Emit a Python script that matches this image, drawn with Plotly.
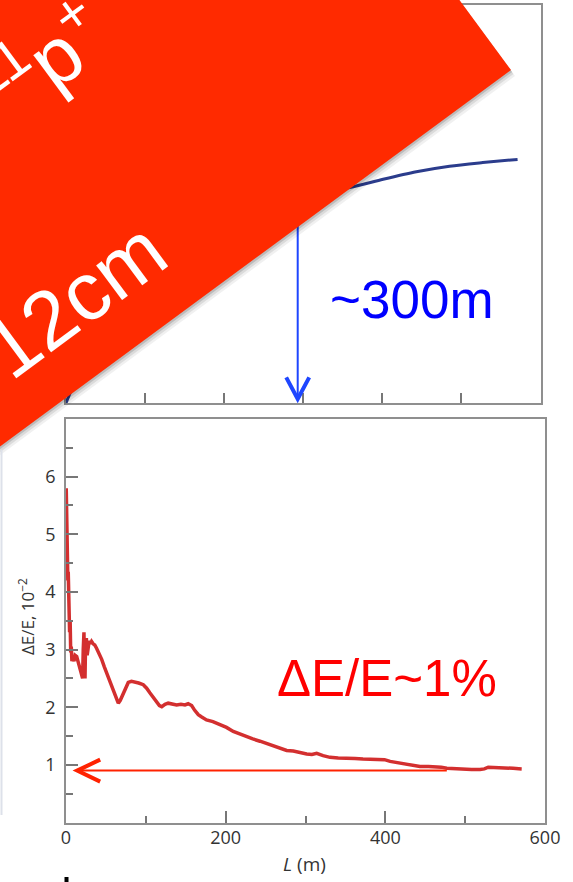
import plotly.graph_objects as go

W, H = 573, 882

# ---- energy spread along the plasma (lower panel) ----
L_red = [0.3, 0.8, 1.3, 1.8, 2.3, 2.8, 3.3, 3.9, 4.5, 5.2,
         5.9, 6.6, 7.4, 8.5, 10, 11.5, 13.4, 15.5, 17.5, 19.2,
         20.8, 21.6, 22.5, 23.2, 23.8, 24.5, 25.5, 26.5, 27.6, 29,
         30.5, 32, 34, 36, 38.4, 41, 44.7, 48, 52, 56,
         60, 63, 65.5, 68, 71.8, 75, 78, 82, 86, 91,
         96.8, 101, 105, 109, 113.6, 117, 120, 124, 128, 133,
         138.6, 144, 149, 153, 157.4, 161, 165.7, 170, 176, 184,
         193, 201, 209.5, 218, 226, 234, 243, 251, 260, 268,
         276.4, 284.7, 293, 301.5, 308, 314, 322, 330.7, 341, 351.6,
         362, 372, 382, 391, 399, 406, 414, 422.5, 433, 443.4,
         454, 464, 470, 477, 487, 497.6, 508, 518.6, 524, 529,
         538, 548, 560, 570.8]
dE_red = [5.8, 5.3, 4.6, 5.1, 4.2, 4.35, 3.6, 3.9, 3.3, 3.5,
          2.95, 3.05, 2.8, 2.85, 2.8, 2.9, 2.88, 2.78, 2.7, 2.6,
          2.5, 3.0, 3.3, 2.6, 2.5, 3.1, 3.2, 2.9, 3.05, 3.15,
          3.1, 3.14, 3.1, 3.08, 3.02, 2.95, 2.83, 2.7, 2.55, 2.4,
          2.25, 2.12, 2.07, 2.12, 2.25, 2.35, 2.43, 2.45, 2.44, 2.42,
          2.39, 2.33, 2.25, 2.17, 2.08, 2.03, 2.01, 2.05, 2.07, 2.05,
          2.04, 2.05, 2.04, 2.06, 2.03, 1.95, 1.87, 1.83, 1.78, 1.75,
          1.70, 1.65, 1.58, 1.53, 1.49, 1.45, 1.41, 1.37, 1.32, 1.29,
          1.25, 1.24, 1.21, 1.19, 1.18, 1.20, 1.16, 1.13, 1.12, 1.12,
          1.11, 1.10, 1.10, 1.10, 1.09, 1.06, 1.04, 1.01, 0.99, 0.97,
          0.97, 0.97, 0.96, 0.94, 0.93, 0.92, 0.92, 0.92, 0.93, 0.96,
          0.95, 0.94, 0.94, 0.93]

# ---- electron energy along the plasma (upper panel) ----
L_blue = [0, 5, 20, 50, 100, 150, 200, 250, 300, 363, 401, 443, 485, 527, 571]
E_blue = [0, 24, 90, 190, 310, 390, 445, 490, 520, 543, 562, 581, 595, 604, 612]

# ---- ticks ----
x_ticks = [0, 200, 400, 600]
x_minor = [100, 300, 500]
y_ticks = [1, 2, 3, 4, 5, 6]
y_minor = [0.5, 1.5, 2.5, 3.5, 4.5, 5.5, 6.5]
top_ticks = [100, 200, 300, 400, 500]

# ---- markers ----
mark_L = 293          # "~300m" marker position
mark_top, mark_tip = 900, 10
level = 0.9           # "~1%" level
level_from, level_to = 477, 14

RED_BOX = "#ff2a00"
BLUE = "#0000ff"
ARROW_BLUE = "#1e46ff"
RED_TXT = "#ff0000"
FRAME = "#8f8f8f"
TICK = "#777777"


def P(x, y):
    return f"{x / W:.5f},{1 - y / H:.5f}"


def poly(pts):
    return "M " + " L ".join(P(x, y) for x, y in pts) + " Z"


fig = go.Figure()

fig.add_trace(go.Scatter(
    x=L_red, y=dE_red, mode="lines", xaxis="x", yaxis="y",
    line=dict(color="#d32f2f", width=3.5), hoverinfo="skip"))

fig.add_trace(go.Scatter(
    x=L_blue, y=E_blue, mode="lines", xaxis="x2", yaxis="y2",
    line=dict(color="#2b3c8c", width=3, shape="spline", smoothing=0.8),
    hoverinfo="skip"))

# rotated banner (corner, direction along its lower edge and along its upper edge)
cx, cy = 511, 70
ux, uy = -0.805, 0.593
vx, vy = -0.593, -0.805
A, B = 900, 400
banner = [(cx, cy), (cx + A * ux, cy + A * uy),
          (cx + A * ux + B * vx, cy + A * uy + B * vy), (cx + B * vx, cy + B * vy)]

shapes = []
# vertical marker shaft (runs under the banner)
shapes.append(dict(type="line", xref="x2", yref="y2", x0=mark_L, x1=mark_L,
                   y0=mark_top, y1=mark_tip, line=dict(color=ARROW_BLUE, width=2)))
shapes.append(dict(type="path", xref="x2", yref="y2", xsizemode="pixel", ysizemode="pixel",
                   xanchor=mark_L, yanchor=mark_tip,
                   path="M -11.5,21.7 L 0,0 L 11.5,21.7",
                   line=dict(color=ARROW_BLUE, width=4)))
# banner shadow + banner
for (dx, dy, a) in [(4, 6, 0.06), (2.5, 4, 0.09), (1.2, 2, 0.14)]:
    shapes.append(dict(type="path", xref="paper", yref="paper", layer="above",
                       path=poly([(x + dx, y + dy) for x, y in banner]),
                       fillcolor=f"rgba(0,0,0,{a})", line=dict(width=0)))
shapes.append(dict(type="path", xref="paper", yref="paper", layer="above",
                   path=poly(banner), fillcolor=RED_BOX, line=dict(width=0)))
# horizontal level arrow
shapes.append(dict(type="line", xref="x", yref="y", x0=level_from, x1=level_to,
                   y0=level, y1=level, line=dict(color="#ff2200", width=2)))
shapes.append(dict(type="path", xref="x", yref="y", xsizemode="pixel", ysizemode="pixel",
                   xanchor=level_to, yanchor=level,
                   path="M 23,11 L 0,0 L 23,-11",
                   line=dict(color="#ff2200", width=4)))
# faint page edge and small glyph stub
shapes.append(dict(type="line", xref="paper", yref="paper",
                   x0=1.5 / W, x1=1.5 / W, y0=1 - 450 / H, y1=1 - 815 / H,
                   line=dict(color="#dde1ea", width=2)))
shapes.append(dict(type="rect", xref="paper", yref="paper",
                   x0=64.5 / W, x1=68.5 / W, y0=1 - 877 / H, y1=0,
                   fillcolor="black", line=dict(width=0)))

BIG = "Liberation Sans, Arial, sans-serif"
LAB = "Open Sans, sans-serif"

annotations = [
    dict(text="10<sup>11</sup>p<sup>+</sup>", x=6 / W, y=1 - 86 / H,
         xref="paper", yref="paper",
         showarrow=False, xanchor="center", yanchor="middle", textangle=-36.4,
         font=dict(family=BIG, size=80, color="white")),
    dict(text="12cm", x=75 / W, y=1 - 300 / H, xref="paper", yref="paper",
         showarrow=False, xanchor="center", yanchor="middle", textangle=-36.4,
         font=dict(family=BIG, size=82, color="white")),
    dict(text="~300m", x=412 / W, y=1 - 300 / H, xref="paper", yref="paper",
         showarrow=False, xanchor="center", yanchor="middle",
         font=dict(family=BIG, size=53, color=BLUE)),
    dict(text="ΔE/E~1%", x=387 / W, y=1 - 678 / H, xref="paper", yref="paper",
         showarrow=False, xanchor="center", yanchor="middle",
         font=dict(family=BIG, size=51, color=RED_TXT)),
    dict(text="ΔE/E, 10<sup>−2</sup>", x=26 / W, y=1 - 617 / H, xref="paper", yref="paper",
         showarrow=False, xanchor="center", yanchor="middle", textangle=-90,
         font=dict(family=LAB, size=17, color="#333333")),
    dict(text="<i>L</i> (m)", x=304 / W, y=1 - 864 / H, xref="paper", yref="paper",
         showarrow=False, xanchor="center", yanchor="middle",
         font=dict(family=LAB, size=19, color="#333333")),
]

axis_common = dict(showline=True, mirror=True, linecolor=FRAME, linewidth=1.5,
                   showgrid=False, zeroline=False)

fig.update_layout(
    width=W, height=H, autosize=False, margin=dict(l=0, r=0, t=0, b=0, autoexpand=False),
    paper_bgcolor="white", plot_bgcolor="white", showlegend=False,
    xaxis=dict(domain=[66 / W, 545 / W], range=[0, 600], anchor="y",
               tickvals=x_ticks, ticks="inside", ticklen=12, tickwidth=1.5, tickcolor=TICK,
               minor=dict(tickvals=x_minor, ticks="inside", ticklen=7, tickwidth=1.5,
                          tickcolor=TICK),
               tickfont=dict(family=LAB, size=18, color="#333333"),
               ticklabelstandoff=-2, **axis_common),
    yaxis=dict(domain=[1 - 822.5 / H, 1 - 419 / H], range=[0, 7], anchor="x",
               tickvals=y_ticks, ticks="inside", ticklen=12, tickwidth=1.5, tickcolor=TICK,
               minor=dict(tickvals=y_minor, ticks="inside", ticklen=7, tickwidth=1.5,
                          tickcolor=TICK),
               tickfont=dict(family=LAB, size=18, color="#333333"),
               ticklabelstandoff=5, **axis_common),
    xaxis2=dict(domain=[66 / W, 540.5 / W], range=[0, 600], anchor="y2",
                tickvals=top_ticks, ticks="inside", ticklen=10, tickwidth=1.5,
                tickcolor=TICK, showticklabels=False, **axis_common),
    yaxis2=dict(domain=[1 - 403 / H, 1 - 5 / H], range=[0, 1000], anchor="x2",
                ticks="", showticklabels=False, **axis_common),
    shapes=shapes,
    annotations=annotations,
)

# keep the page exactly one figure in size (no body margin, no scrollbars)
page_fix = (
    "document.documentElement.style.overflow='hidden';"
    "document.body.style.margin='0';"
    "document.body.style.overflow='hidden';"
    "var gd=document.getElementById('{plot_id}');"
    "Plotly.relayout(gd,{width:%d,height:%d});" % (W, H)
)

fig.write_html("out.html", config={"responsive": False}, post_script=page_fix)
